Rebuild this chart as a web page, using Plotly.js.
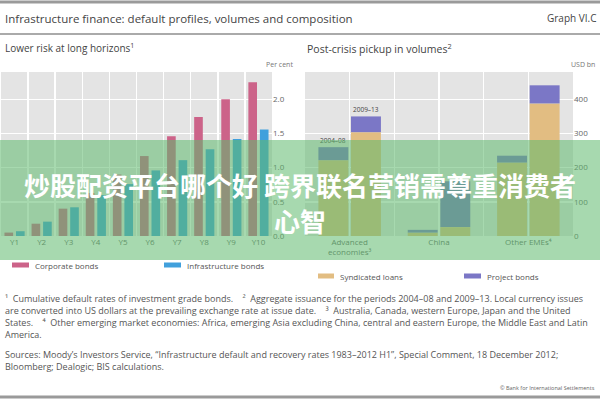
<!DOCTYPE html>
<html><head><meta charset="utf-8">
<script src="https://cdn.plot.ly/plotly-3.0.1.min.js"></script>
<style>
html,body{margin:0;padding:0;background:#fff;}
#wrap{position:relative;width:600px;height:400px;overflow:hidden;}
#chart{width:600px;height:400px;}
#banner{position:absolute;left:0;top:140px;width:600px;height:120px;background:rgba(95,185,110,0.55);color:#fff;font-family:"Noto Sans CJK SC",sans-serif;font-weight:700;font-size:26px;line-height:36px;text-align:center;padding-top:27px;box-sizing:border-box;}
</style></head><body>
<div id="wrap"><div id="chart"></div><div id="banner">炒股配资平台哪个好 跨界联名营销需尊重消费者<br>心智</div></div>
<script>
// ---- data ----
const years = ['Y1','Y2','Y3','Y4','Y5','Y6','Y7','Y8','Y9','Y10'];
const corporateBonds = [0.05, 0.18, 0.40, 0.63, 0.90, 1.17, 1.46, 1.74, 2.00, 2.25];
const infrastructureBonds = [0.07, 0.21, 0.42, 0.60, 0.76, 0.96, 1.11, 1.27, 1.42, 1.56];
const leftTicks = [0, 0.5, 1, 1.5, 2];

const regions = ['Advanced<br>economies³', 'China', 'Other EMEs⁴'];
const periods = ['2004–08', '2009–13'];
const syndicated0408 = [222, 10, 215];
const project0408 = [38, 8, 20];
const syndicated0913 = [304, 26, 388];
const project0913 = [46, 134, 53];
const rightTicks = [0, 100, 200, 300, 400];

// ---- style ----
const C = {corp:'#cc6389', infra:'#41a0dc', synd:'#e2bd82', proj:'#7b77c6', bg:'#e4e4e4', text:'#555'};
const FONT = 'Open Sans, Noto Sans, sans-serif';
const X = p => p/600, Y = p => 1 - p/400;

const regionIdx = regions.map((_, i) => i);
const W = 0.335;

const traces = [
  {type:'bar', x:years, y:corporateBonds, name:'Corporate bonds', marker:{color:C.corp}, xaxis:'x', yaxis:'y'},
  {type:'bar', x:years, y:infrastructureBonds, name:'Infrastructure bonds', marker:{color:C.infra}, xaxis:'x', yaxis:'y'},
  {type:'bar', x:regionIdx, y:syndicated0408, name:'Syndicated loans', offset:-0.35, width:W, marker:{color:C.synd}, xaxis:'x2', yaxis:'y2'},
  {type:'bar', x:regionIdx, y:project0408, base:syndicated0408, name:'Project bonds', offset:-0.35, width:W, marker:{color:C.proj}, xaxis:'x2', yaxis:'y2'},
  {type:'bar', x:regionIdx, y:syndicated0913, name:'Syndicated loans', offset:0.015, width:W, marker:{color:C.synd}, xaxis:'x2', yaxis:'y2'},
  {type:'bar', x:regionIdx, y:project0913, base:syndicated0913, name:'Project bonds', offset:0.015, width:W, marker:{color:C.proj}, xaxis:'x2', yaxis:'y2'}
];

const tf = {family:FONT, size:8, color:'#666'};
function txt(text, x, y, size, anchor, color, extra) {
  return Object.assign({text:text, xref:'paper', yref:'paper', x:X(x), y:Y(y), xanchor:anchor||'left', yanchor:'middle',
    showarrow:false, font:{family:FONT, size:size, color:color||C.text}}, extra||{});
}
const foot = [
  '¹  Cumulative default rates of investment grade bonds.    ²  Aggregate issuance for the periods 2004–08 and 2009–13. Local currency issues',
  'are converted into US dollars at the prevailing exchange rate at issue date.    ³  Australia, Canada, western Europe, Japan and the United',
  'States.    ⁴  Other emerging market economies: Africa, emerging Asia excluding China, central and eastern Europe, the Middle East and Latin',
  'America.'
];
const sources = [
  'Sources: Moody\u2019s Investors Service, \u201cInfrastructure default and recovery rates 1983–2012 H1\u201d, Special Comment, 18 December 2012;',
  'Bloomberg; Dealogic; BIS calculations.'
];

const annotations = [
  txt('Infrastructure finance: default profiles, volumes and composition', 3, 18, 11.5, 'left', '#444'),
  txt('Graph VI.C', 598, 18, 10, 'right', '#444'),
  txt('Lower risk at long horizons<sup>1</sup>', 3, 48, 10, 'left', '#444'),
  txt('Post-crisis pickup in volumes<sup>2</sup>', 305, 48, 10.5, 'left', '#444'),
  txt('Per cent', 295, 65, 7, 'right', '#777'),
  txt('USD bn', 597, 65, 7, 'right', '#777'),
  txt('Corporate bonds', 33, 265, 8, 'left', '#555'),
  txt('Infrastructure bonds', 185, 265, 8, 'left', '#555'),
  txt('Syndicated loans', 338, 276, 8, 'left', '#555'),
  txt('Project bonds', 485, 276, 8, 'left', '#555'),
  {text:periods[0], xref:'x2', yref:'y2', x:-0.35 + W/2, y:syndicated0408[0] + project0408[0], yanchor:'bottom', showarrow:false, font:{family:FONT, size:6.5, color:'#444'}},
  {text:periods[1], xref:'x2', yref:'y2', x:0.015 + W/2, y:syndicated0913[0] + project0913[0], yanchor:'bottom', showarrow:false, font:{family:FONT, size:6.5, color:'#444'}},
  txt('© Bank for International Settlements', 597, 388, 5.5, 'right', '#666')
];
foot.forEach((t, i) => annotations.push(txt(t, 3, 298 + i*12.3, 9, 'left', '#555')));
sources.forEach((t, i) => annotations.push(txt(t, 3, 354 + i*12.3, 9, 'left', '#555')));

function rect(x0, y0, x1, y1, color) {
  return {type:'rect', xref:'paper', yref:'paper', x0:X(x0), x1:X(x1), y0:Y(y1), y1:Y(y0), fillcolor:color, line:{width:0}};
}
function hline(y, w, color) {
  return {type:'line', xref:'paper', yref:'paper', x0:0, x1:1, y0:Y(y), y1:Y(y), line:{color:color, width:w}};
}
const shapes = [
  hline(2, 3, '#9a9a9a'),
  hline(34, 2, '#aaaaaa'),
  hline(397, 3, '#9a9a9a'),
  rect(12, 262.5, 29, 267.5, C.corp),
  rect(164, 262.5, 181, 267.5, C.infra),
  rect(318, 273.5, 334, 278.5, C.synd),
  rect(464, 273.5, 481, 278.5, C.proj)
];

const layout = {
  width:600, height:400, margin:{l:0, r:0, t:0, b:0},
  paper_bgcolor:'#fff', plot_bgcolor:C.bg, showlegend:false,
  barmode:'group', bargap:0.15, bargroupgap:0.25,
  font:{family:FONT, size:8, color:C.text},
  xaxis:{domain:[X(1), X(272)], anchor:'y', type:'category', tickson:'boundaries', showgrid:true, gridcolor:'#fff', gridwidth:1.5,
    ticks:'', tickfont:tf, zeroline:false, showline:false, fixedrange:true},
  yaxis:{domain:[Y(236), Y(72)], anchor:'x', side:'right', range:[0, 2.4], tickvals:leftTicks, tickformat:'.1f',
    showgrid:true, gridcolor:'#fff', gridwidth:1.5, zeroline:false, ticks:'', tickfont:tf, fixedrange:true},
  xaxis2:{domain:[X(305), X(573)], anchor:'y2', range:[-0.5, 2.5],
    tickvals:[-0.5, 0, 0.5, 1, 1.5, 2, 2.5], ticktext:['', regions[0], '', regions[1], '', regions[2], ''],
    showgrid:true, gridcolor:'#fff', gridwidth:1.5, ticks:'', tickfont:tf, zeroline:false, showline:false, fixedrange:true},
  yaxis2:{domain:[Y(236), Y(72)], anchor:'x2', side:'right', range:[0, 480], tickvals:rightTicks,
    showgrid:true, gridcolor:'#fff', gridwidth:1.5, zeroline:false, ticks:'', tickfont:tf, fixedrange:true},
  annotations:annotations, shapes:shapes
};

Plotly.newPlot('chart', traces, layout, {staticPlot:true, displayModeBar:false});
</script>
</body></html>
